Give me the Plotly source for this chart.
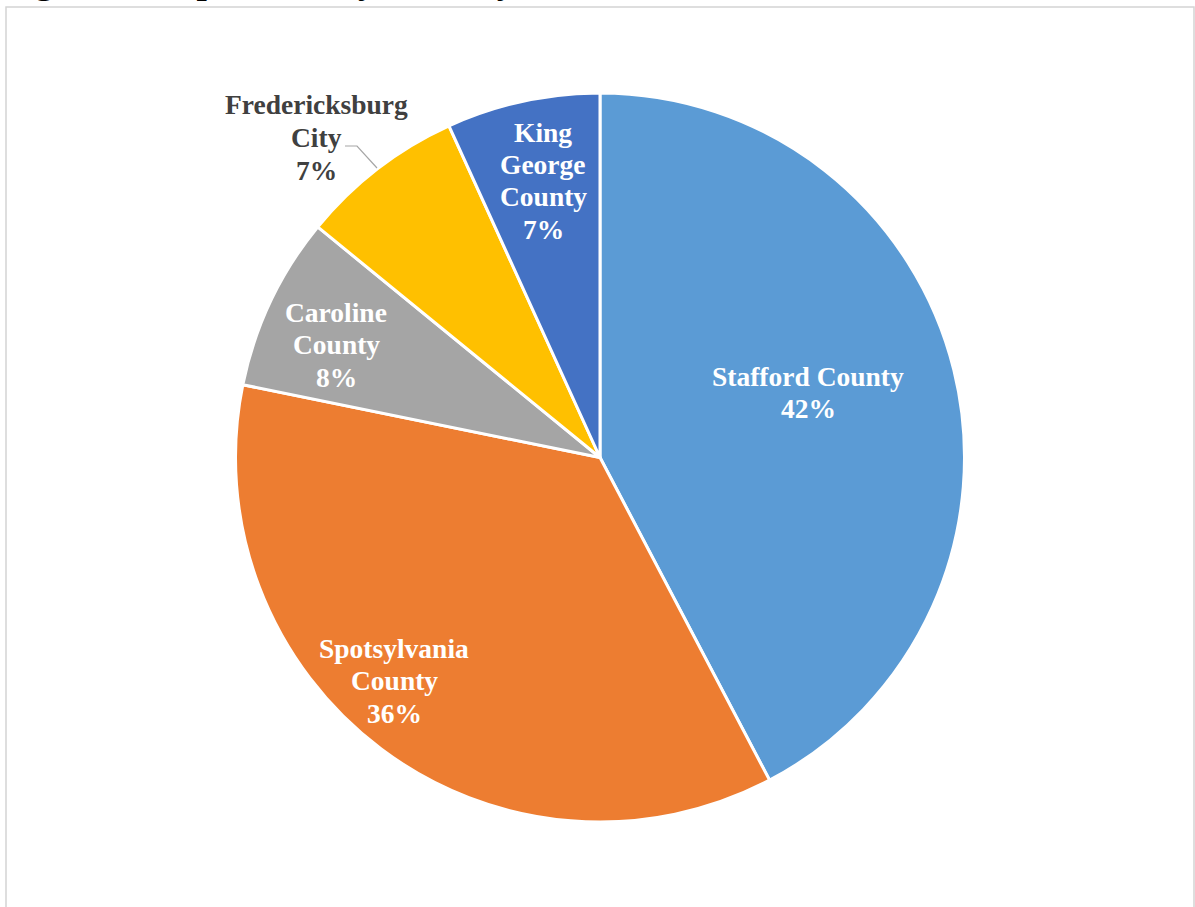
import plotly.graph_objects as go

# ---- data ----
localities = ["Stafford County", "Spotsylvania County", "Caroline County",
              "Fredericksburg City", "King George County"]
shares = [42.3, 35.9, 7.7, 7.3, 6.8]
label_lines = [["Stafford County"], ["Spotsylvania", "County"], ["Caroline", "County"],
               ["Fredericksburg", "City"], ["King", "George", "County"]]
colors = ["#5B9BD5", "#ED7D31", "#A5A5A5", "#FFC000", "#4472C4"]
title_text = "Figure 1: Population by Locality"

W, H = 1195, 907
FONT = "Liberation Serif, Times New Roman, serif"

# label placement (pixel centres of first line) and colours
label_pos = [(808, 376), (394, 648), (336, 312), (316, 105), (543, 132)]
label_color = ["white", "white", "white", "#404040", "white"]
LINE_STEP = 32.5

fig = go.Figure(go.Pie(
    labels=localities, values=shares, sort=False, direction="clockwise", rotation=0,
    marker=dict(colors=colors, line=dict(color="white", width=3)),
    textinfo="none", hoverinfo="label+percent", showlegend=False,
    domain=dict(x=[(600 - 365) / W, (600 + 365) / W], y=[85 / H, 814 / H]),
))

total = sum(shares)
annotations = []
for i, name in enumerate(localities):
    lines = label_lines[i] + [f"{round(shares[i] / total * 100)}%"]
    x0, y0 = label_pos[i]
    for k, ln in enumerate(lines):
        annotations.append(dict(
            text=f"<b>{ln}</b>", x=x0 / W, y=1 - (y0 + k * LINE_STEP) / H,
            xref="paper", yref="paper", showarrow=False, xanchor="center", yanchor="middle",
            font=dict(family=FONT, size=27.5, color=label_color[i])))

# title mostly clipped above the visible area (only descenders show)
annotations.append(dict(
    text=f"<b>{title_text}</b>", x=0 / W, y=1 - 3 / H, xref="paper", yref="paper",
    showarrow=False, xanchor="left", yanchor="bottom",
    font=dict(family=FONT, size=37, color="black")))

shapes = [
    dict(type="rect", xref="paper", yref="paper", x0=6 / W, x1=1194 / W, y0=-0.05, y1=1 - 7 / H,
         line=dict(color="#d4d4d4", width=1.5), fillcolor="rgba(0,0,0,0)", layer="below"),
    dict(type="path", xref="paper", yref="paper",
         path=f"M {345 / W} {1 - 146 / H} L {357 / W} {1 - 146 / H} L {377 / W} {1 - 168 / H}",
         line=dict(color="#A6A6A6", width=1.2)),
]

fig.update_layout(
    width=W, height=H, margin=dict(l=0, r=0, t=0, b=0),
    paper_bgcolor="white", plot_bgcolor="white",
    annotations=annotations, shapes=shapes,
)
fig.write_html("out.html")
